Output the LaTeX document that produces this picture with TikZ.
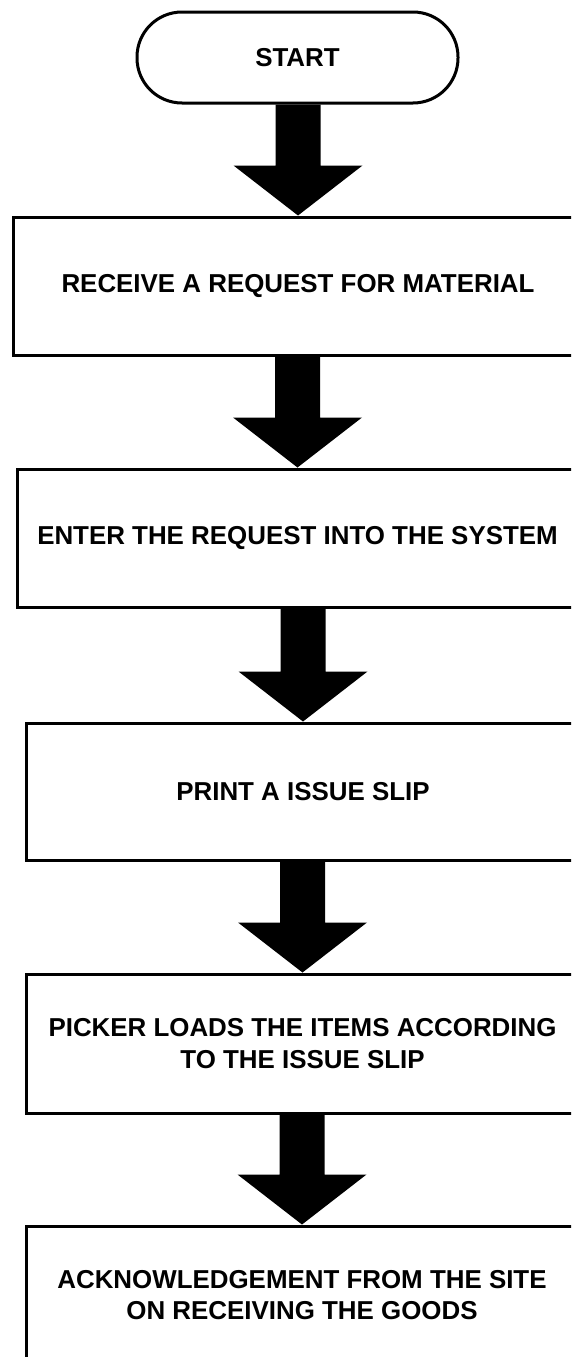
\documentclass[tikz,border=0pt]{standalone}
\usepackage{fontspec}
\setmainfont{Liberation Sans}
\usetikzlibrary{calc}

\begin{document}
\begin{tikzpicture}[x=1pt,y=1pt,
terminal/.style={draw,line width=3pt,rounded corners=45pt,minimum width=321pt,minimum height=91pt,font=\fontsize{25.9}{31.5}\selectfont\bfseries},
box/.style={draw,line width=3pt,align=center,inner sep=0pt,minimum height=138pt,font=\fontsize{25.9}{31.5}\selectfont\bfseries}]
\useasboundingbox (0,0) rectangle (571,-1357);
\clip (0,0) rectangle (571,-1357);

\node[terminal] (start) at (297.5,-57.5) {START};
\node[box,minimum width=570pt] (receive) at (298,-286) {RECEIVE A REQUEST FOR MATERIAL};
\node[box,minimum width=561pt] (enter) at (297.5,-538) {ENTER THE REQUEST INTO THE SYSTEM};
\node[box,minimum width=554pt,minimum height=137pt] (print) at (303,-791.5) {PRINT A ISSUE SLIP};
\node[box,minimum width=553pt,minimum height=139pt] (picker) at (302.5,-1043.5) {PICKER LOADS THE ITEMS ACCORDING\\TO THE ISSUE SLIP};
\node[box,minimum width=552pt] (ack) at (302,-1295) {ACKNOWLEDGEMENT FROM THE SITE\\ON RECEIVING THE GOODS};

% block arrows between the steps
\foreach \a/\b in {start/receive,receive/enter,enter/print,print/picker,picker/ack}
  \fill let \p1=(\a.south), \p2=(\b.north) in
    (\x2-22.5,\y1) -- (\x2+22.5,\y1) -- (\x2+22.5,\y2+50) -- (\x2+64.5,\y2+50)
    -- (\x2,\y2) -- (\x2-64.5,\y2+50) -- (\x2-22.5,\y2+50) -- cycle;
\end{tikzpicture}
\end{document}
